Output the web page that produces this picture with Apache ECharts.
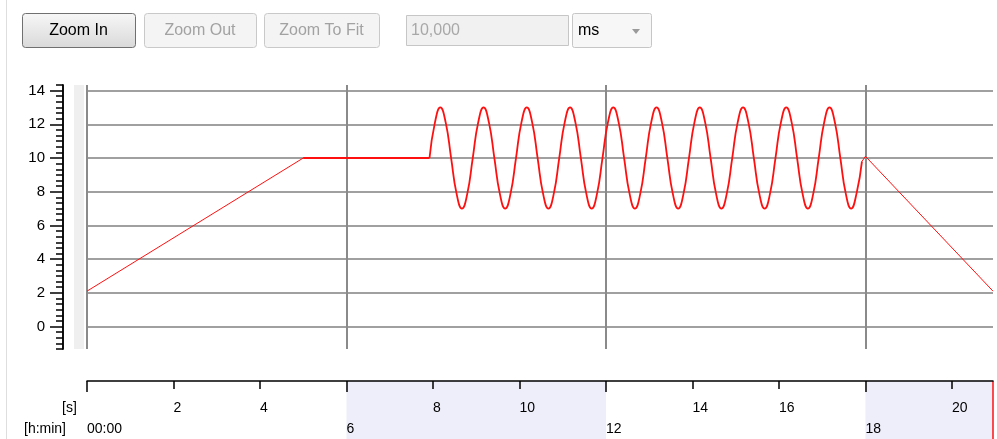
<!DOCTYPE html>
<html>
<head>
<meta charset="utf-8">
<title>Trajectory</title>
<script src="https://cdn.jsdelivr.net/npm/echarts@6/dist/echarts.min.js"></script>
<style>
html, body { margin: 0; padding: 0; background: #fff; }
#main { width: 997px; height: 439px; }
</style>
</head>
<body>
<div id="main"></div>
<script>
// values: [seconds, value]
var rampUp = [[0, 2.1], [5, 10]];
var plateau = [[5, 10], [7.92, 10]];
var wave = [
  [7.92, 10], [8.045, 12.1], [8.17, 13], [8.295, 12.1], [8.42, 10], [8.545, 7.9], [8.67, 7], [8.795, 7.9],
  [8.92, 10], [9.045, 12.1], [9.17, 13], [9.295, 12.1], [9.42, 10], [9.545, 7.9], [9.67, 7], [9.795, 7.9],
  [9.92, 10], [10.045, 12.1], [10.17, 13], [10.295, 12.1], [10.42, 10], [10.545, 7.9], [10.67, 7], [10.795, 7.9],
  [10.92, 10], [11.045, 12.1], [11.17, 13], [11.295, 12.1], [11.42, 10], [11.545, 7.9], [11.67, 7], [11.795, 7.9],
  [11.92, 10], [12.045, 12.1], [12.17, 13], [12.295, 12.1], [12.42, 10], [12.545, 7.9], [12.67, 7], [12.795, 7.9],
  [12.92, 10], [13.045, 12.1], [13.17, 13], [13.295, 12.1], [13.42, 10], [13.545, 7.9], [13.67, 7], [13.795, 7.9],
  [13.92, 10], [14.045, 12.1], [14.17, 13], [14.295, 12.1], [14.42, 10], [14.545, 7.9], [14.67, 7], [14.795, 7.9],
  [14.92, 10], [15.045, 12.1], [15.17, 13], [15.295, 12.1], [15.42, 10], [15.545, 7.9], [15.67, 7], [15.795, 7.9],
  [15.92, 10], [16.045, 12.1], [16.17, 13], [16.295, 12.1], [16.42, 10], [16.545, 7.9], [16.67, 7], [16.795, 7.9],
  [16.92, 10], [17.045, 12.1], [17.17, 13], [17.295, 12.1], [17.42, 10], [17.545, 7.9], [17.67, 7], [17.795, 7.9],
  [17.92, 9.8]
];
var rampDown = [[17.92, 9.8], [18, 10.1], [20.95, 2.1]];

// axes
var xMax = 20.95;
var yMin = -4 / 3, yMax = 43 / 3;
var yLabels = [0, 2, 4, 6, 8, 10, 12, 14];
var secTicks = [0, 2, 4, 6, 8, 10, 12, 14, 16, 18, 20];
var secLabels = [2, 4, 8, 10, 14, 16, 20];
var minTicks = [0, 6, 12, 18];
var minLabels = ['00:00', '6', '12', '18'];
var bands = [[6, 12], [18, 20.95]];

var yMinor = [];
for (var i = -4; i <= 43; i++) yMinor.push(i / 3);

var FONT = '"Liberation Sans", Arial, sans-serif';
var RED = '#ff1010';

var myChart = echarts.init(document.getElementById('main'));

function button(x, w, label, enabled) {
  return [
    {
      type: 'rect',
      shape: { x: x + 0.5, y: 13.5, width: w, height: 34, r: 3 },
      style: {
        fill: enabled
          ? new echarts.graphic.LinearGradient(0, 0, 0, 1, [
              { offset: 0, color: '#f7f7f7' },
              { offset: 1, color: '#d9d9d9' }
            ])
          : '#f4f4f4',
        stroke: enabled ? '#707070' : '#c9c9c9',
        lineWidth: 1
      }
    },
    {
      type: 'text',
      style: {
        text: label, x: x + w / 2, y: 31, align: 'center', verticalAlign: 'middle',
        font: '16px ' + FONT, fill: enabled ? '#000' : '#a2a2a2'
      }
    }
  ];
}

var toolbar = [].concat(
  button(22, 113, 'Zoom In', true),
  button(144, 112, 'Zoom Out', false),
  button(264, 115, 'Zoom To Fit', false),
  [
    {
      type: 'rect',
      shape: { x: 406.5, y: 15.5, width: 162, height: 30 },
      style: { fill: '#f1f1f1', stroke: '#c6c6c6' }
    },
    {
      type: 'text',
      style: { text: '10,000', x: 411, y: 31, verticalAlign: 'middle', font: '16px ' + FONT, fill: '#a8a8a8' }
    },
    {
      type: 'rect',
      shape: { x: 572.5, y: 13.5, width: 79, height: 34, r: 2 },
      style: { fill: '#f7f7f7', stroke: '#c6c6c6' }
    },
    {
      type: 'text',
      style: { text: 'ms', x: 578, y: 31, verticalAlign: 'middle', font: '16px ' + FONT, fill: '#000' }
    },
    {
      type: 'polygon',
      shape: { points: [[632, 29], [640, 29], [636, 34]] },
      style: { fill: '#9a9a9a' }
    },
    // panel border and the grey strip beside the value axis
    {
      type: 'line',
      shape: { x1: 6.5, y1: 0, x2: 6.5, y2: 439 },
      style: { stroke: '#dedede', lineWidth: 1 }
    },
    {
      type: 'rect',
      shape: { x: 74, y: 85, width: 10, height: 264 },
      style: { fill: '#efefef' }
    },
    {
      type: 'text',
      style: { text: '[s]', x: 62, y: 401, font: '14px ' + FONT, fill: '#000' }
    },
    {
      type: 'text',
      style: { text: '[h:min]', x: 24, y: 422, font: '14px ' + FONT, fill: '#000' }
    }
  ]
);

var option = {
  backgroundColor: '#fff',
  animation: false,
  textStyle: { fontFamily: FONT },
  graphic: { elements: toolbar },
  grid: [
    { left: 87, right: 4, top: 85, height: 264 },
    { left: 87, right: 4, top: 381, height: 58 }
  ],
  xAxis: [
    {
      type: 'value', gridIndex: 0, min: 0, max: xMax,
      axisLine: { show: false, onZero: false },
      axisTick: { show: false, customValues: minTicks },
      axisLabel: { show: false },
      splitLine: { show: true, lineStyle: { color: '#8a8a8a', width: 2 } }
    },
    {
      type: 'value', gridIndex: 1, position: 'top', min: 0, max: xMax, z: 5,
      axisLine: { show: true, onZero: false, lineStyle: { color: '#000', width: 1.5 } },
      axisTick: { show: true, inside: true, length: 8, customValues: secTicks, lineStyle: { color: '#000', width: 1.5 } },
      axisLabel: { inside: true, customValues: secLabels, align: 'left', margin: 20, fontSize: 14, color: '#000' },
      splitLine: { show: false }
    },
    {
      type: 'value', gridIndex: 1, position: 'top', min: 0, max: xMax, z: 5,
      axisLine: { show: false, onZero: false },
      axisTick: { show: true, inside: true, length: 11, customValues: minTicks, lineStyle: { color: '#000', width: 1.5 } },
      axisLabel: {
        inside: true, customValues: minTicks, align: 'left', margin: 41, fontSize: 14, color: '#000',
        formatter: function (v) { return minLabels[minTicks.indexOf(v)]; }
      },
      splitLine: { show: false }
    }
  ],
  yAxis: [
    {
      type: 'value', gridIndex: 0, position: 'left', min: yMin, max: yMax, offset: 24,
      axisLine: { show: true, onZero: false, lineStyle: { color: '#000', width: 1.5 } },
      axisTick: { show: true, length: 13, customValues: yLabels, lineStyle: { color: '#000', width: 1.5 } },
      axisLabel: { customValues: yLabels, margin: 18, fontSize: 15, color: '#000' },
      splitLine: { show: true, lineStyle: { color: '#a0a0a0', width: 2 } }
    },
    {
      type: 'value', gridIndex: 0, position: 'left', min: yMin, max: yMax, offset: 24,
      axisLine: { show: true, onZero: false, lineStyle: { color: '#000', width: 1.5 } },
      axisTick: { show: true, length: 7, customValues: yMinor, lineStyle: { color: '#000', width: 1.5 } },
      axisLabel: { show: false },
      splitLine: { show: false }
    },
    { type: 'value', gridIndex: 1, min: 0, max: 1, show: false }
  ],
  series: [
    {
      type: 'line', xAxisIndex: 0, yAxisIndex: 0, data: rampUp, showSymbol: false,
      lineStyle: { color: RED, width: 1 }
    },
    {
      type: 'line', xAxisIndex: 0, yAxisIndex: 0, data: plateau, showSymbol: false,
      lineStyle: { color: RED, width: 2 }
    },
    {
      type: 'line', xAxisIndex: 0, yAxisIndex: 0, data: wave, showSymbol: false, smooth: 0.5,
      lineStyle: { color: RED, width: 1.8 }
    },
    {
      type: 'line', xAxisIndex: 0, yAxisIndex: 0, data: rampDown, showSymbol: false,
      lineStyle: { color: RED, width: 1 }
    },
    {
      // shaded hour bands and end marker on the time ruler
      type: 'line', xAxisIndex: 1, yAxisIndex: 2, data: [[0, 0]], showSymbol: false,
      lineStyle: { opacity: 0 }, z: 1,
      markArea: {
        silent: true,
        itemStyle: { color: '#eeeefb' },
        data: bands.map(function (b) { return [{ xAxis: b[0] }, { xAxis: b[1] }]; })
      },
      markLine: {
        silent: true, symbol: ['none', 'none'], label: { show: false },
        lineStyle: { color: RED, width: 1.5, type: 'solid' },
        data: [{ xAxis: xMax }]
      }
    }
  ]
};

myChart.setOption(option);
window.onresize = myChart.resize;
</script>
</body>
</html>
